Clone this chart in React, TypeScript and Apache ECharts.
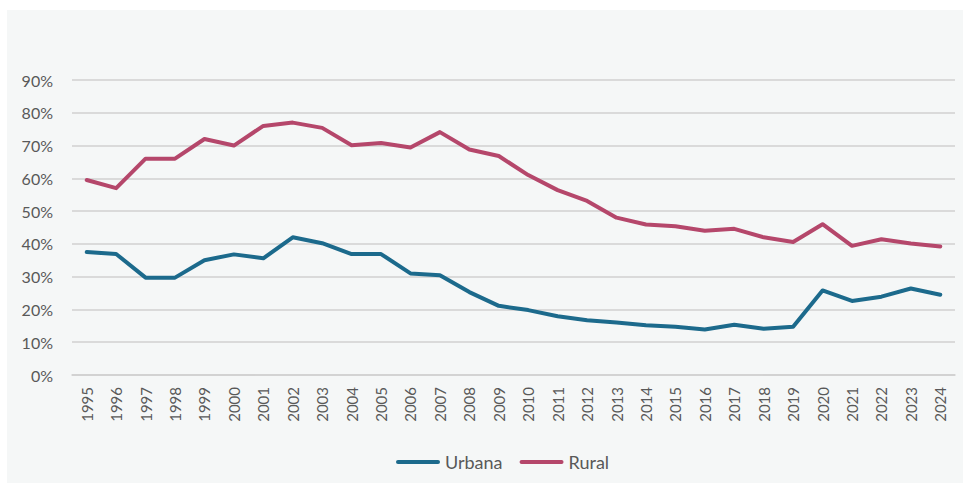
import React, { useEffect, useRef } from "react";
import * as echarts from "echarts";

const years = [
  "1995","1996","1997","1998","1999","2000","2001","2002","2003","2004",
  "2005","2006","2007","2008","2009","2010","2011","2012","2013","2014",
  "2015","2016","2017","2018","2019","2020","2021","2022","2023","2024",
];

const urbana = [
  37.5, 36.9, 29.7, 29.7, 35.0, 36.8, 35.6, 42.0, 40.2, 36.9,
  36.9, 31.0, 30.4, 25.3, 21.1, 19.8, 17.9, 16.7, 16.0, 15.2,
  14.7, 13.9, 15.3, 14.1, 14.7, 25.8, 22.6, 23.9, 26.4, 24.5,
];

const rural = [
  59.5, 57.0, 66.0, 66.0, 72.0, 70.0, 76.0, 77.0, 75.4, 70.1,
  70.8, 69.4, 74.1, 68.8, 66.8, 61.0, 56.4, 53.1, 48.0, 45.9,
  45.4, 44.0, 44.6, 42.0, 40.6, 46.0, 39.4, 41.4, 40.1, 39.2,
];

const seriesNames = ["Urbana", "Rural"];
const yTicks = { min: 0, max: 90, interval: 10 };

export default function App() {
  const ref = useRef<HTMLDivElement>(null);
  useEffect(() => {
    if (!ref.current) return;
    const chart = echarts.init(ref.current, null, { renderer: "svg" });
    const legendIcon = "path://M2,0 L42,0 A2,2 0 0 1 42,4 L2,4 A2,2 0 0 1 2,0 Z";
    chart.setOption({
      animation: false,
      backgroundColor: "#ffffff",
      graphic: [
        {
          type: "rect",
          z: -10,
          silent: true,
          shape: { x: 7, y: 10, width: 956, height: 473 },
          style: { fill: "#f5f7f7" },
        },
      ],
      grid: { left: 72, right: 8, top: 80, bottom: 108, containLabel: false },
      legend: {
        left: 391,
        top: 448,
        itemWidth: 44,
        itemHeight: 4,
        itemGap: 17,
        textStyle: { fontFamily: "Lato", fontSize: 18, color: "#595959" },
        data: [
          { name: seriesNames[0], icon: legendIcon },
          { name: seriesNames[1], icon: legendIcon },
        ],
      },
      xAxis: {
        type: "category",
        data: years,
        boundaryGap: true,
        axisLine: { show: true, lineStyle: { color: "#d0d0d0", width: 1.5 } },
        axisTick: { show: false },
        axisLabel: {
          rotate: 90,
          interval: 0,
          margin: 12,
          fontFamily: "Lato",
          fontSize: 15,
          color: "#595959",
        },
      },
      yAxis: {
        type: "value",
        min: yTicks.min,
        max: yTicks.max,
        interval: yTicks.interval,
        axisLine: { show: false },
        axisTick: { show: false },
        splitLine: { lineStyle: { color: "#d0d0d0", width: 1.5 } },
        axisLabel: {
          formatter: "{value}%",
          margin: 19,
          fontFamily: "Lato",
          fontSize: 16,
          color: "#595959",
        },
      },
      series: [
        {
          name: seriesNames[0],
          type: "line",
          data: urbana,
          symbol: "none",
          lineStyle: { color: "#1c6a8c", width: 4, cap: "round", join: "round" },
          itemStyle: { color: "#1c6a8c" },
        },
        {
          name: seriesNames[1],
          type: "line",
          data: rural,
          symbol: "none",
          lineStyle: { color: "#b5476b", width: 4, cap: "round", join: "round" },
          itemStyle: { color: "#b5476b" },
        },
      ],
    });
    return () => chart.dispose();
  }, []);
  return (
    <div
      ref={ref}
      style={{ position: "absolute", left: 0, top: 0, width: 963, height: 483 }}
    />
  );
}
